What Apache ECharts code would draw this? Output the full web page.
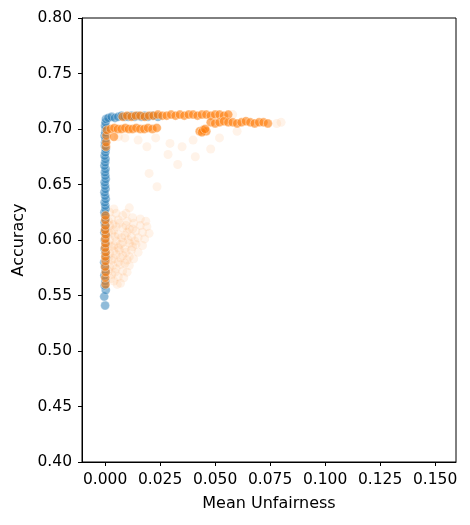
<!DOCTYPE html>
<html>
<head>
<meta charset="utf-8">
<script src="https://cdn.jsdelivr.net/npm/echarts@6/dist/echarts.min.js"></script>
<style>
  html, body { margin: 0; padding: 0; background: #fff; }
  #chart { width: 470px; height: 525px; }
</style>
</head>
<body>
<div id="chart"></div>
<script>
// tick labels
const xTicks = [0, 0.025, 0.05, 0.075, 0.1, 0.125, 0.15];
const yTicks = [0.4, 0.45, 0.5, 0.55, 0.6, 0.65, 0.7, 0.75, 0.8];

// blue runs: [mean unfairness, accuracy]
const blueMain = [
  [0.0000, 0.541], [-0.0004, 0.549], [0.0003, 0.555], [-0.0002, 0.559], [0.0001, 0.563],
  [-0.0003, 0.568], [0.0002, 0.572], [0.0000, 0.576], [-0.0004, 0.580], [0.0003, 0.584],
  [0.0001, 0.588], [-0.0002, 0.592], [0.0002, 0.596], [-0.0001, 0.600], [0.0003, 0.604],
  [-0.0003, 0.607], [0.0001, 0.610], [0.0000, 0.613], [-0.0002, 0.616], [0.0002, 0.619],
  [0.0000, 0.622], [-0.0003, 0.625], [0.0002, 0.628], [0.0001, 0.631], [-0.0002, 0.634],
  [0.0003, 0.637], [0.0000, 0.640], [-0.0003, 0.643], [0.0002, 0.646], [0.0000, 0.649],
  [-0.0002, 0.652], [0.0003, 0.655], [0.0001, 0.658], [-0.0001, 0.661], [0.0002, 0.664],
  [-0.0003, 0.667], [0.0000, 0.670], [0.0002, 0.673], [-0.0002, 0.676], [0.0001, 0.679],
  [0.0003, 0.682], [-0.0001, 0.685], [0.0000, 0.688], [0.0002, 0.691], [-0.0002, 0.694],
  [0.0001, 0.697], [0.0003, 0.700], [0.0000, 0.703], [0.0002, 0.706], [0.0004, 0.709],
  [0.0015, 0.710], [0.0030, 0.711], [0.0045, 0.710], [0.0060, 0.711], [0.0075, 0.712],
  [0.0090, 0.711], [0.0105, 0.711], [0.0120, 0.712], [0.0135, 0.711], [0.0150, 0.712],
  [0.0165, 0.711], [0.0180, 0.712], [0.0195, 0.711], [0.0215, 0.712], [0.0240, 0.711]
];

const orangeMain = [
  [0.0002, 0.560], [0.0001, 0.566], [0.0003, 0.571], [0.0000, 0.576], [0.0002, 0.581],
  [0.0001, 0.585], [0.0003, 0.589], [0.0000, 0.593], [0.0002, 0.597], [0.0001, 0.601],
  [0.0003, 0.605], [0.0000, 0.609], [0.0002, 0.613], [0.0001, 0.618], [0.0002, 0.622],
  [0.0004, 0.684], [0.0005, 0.688], [0.0006, 0.694], [0.0040, 0.693],
  [0.0008, 0.699], [0.0025, 0.700], [0.0042, 0.701], [0.0058, 0.700], [0.0075, 0.700],
  [0.0092, 0.701], [0.0108, 0.700], [0.0125, 0.700], [0.0142, 0.701], [0.0160, 0.700],
  [0.0178, 0.700], [0.0195, 0.701], [0.0215, 0.700], [0.0235, 0.701],
  [0.0080, 0.711], [0.0100, 0.712], [0.0120, 0.711], [0.0140, 0.712], [0.0160, 0.712],
  [0.0180, 0.711], [0.0200, 0.712], [0.0220, 0.712], [0.0240, 0.713], [0.0260, 0.712],
  [0.0280, 0.712], [0.0300, 0.713], [0.0320, 0.712], [0.0340, 0.713], [0.0360, 0.712],
  [0.0380, 0.713], [0.0400, 0.713], [0.0420, 0.712], [0.0440, 0.713], [0.0460, 0.713],
  [0.0480, 0.712], [0.0500, 0.713], [0.0520, 0.713], [0.0540, 0.712], [0.0560, 0.713],
  [0.0480, 0.706], [0.0500, 0.705], [0.0520, 0.706], [0.0540, 0.707], [0.0560, 0.706],
  [0.0580, 0.706], [0.0600, 0.705], [0.0620, 0.706], [0.0640, 0.707], [0.0660, 0.706],
  [0.0680, 0.705], [0.0700, 0.706], [0.0720, 0.706], [0.0740, 0.705],
  [0.0430, 0.698], [0.0445, 0.699], [0.0460, 0.698], [0.0440, 0.697], [0.0455, 0.700]
];

const orangeFaint = [
  [0.0060, 0.693], [0.0090, 0.692], [0.0150, 0.690], [0.0190, 0.684], [0.0230, 0.692],
  [0.0295, 0.687], [0.0286, 0.677], [0.0350, 0.684], [0.0400, 0.690], [0.0410, 0.675],
  [0.0480, 0.682], [0.0520, 0.692], [0.0580, 0.713], [0.0600, 0.698], [0.0780, 0.705],
  [0.0800, 0.706], [0.0236, 0.648], [0.0110, 0.629], [0.0200, 0.660], [0.0330, 0.668],
  [0.0020, 0.625], [0.0050, 0.624], [0.0080, 0.622], [0.0030, 0.619], [0.0060, 0.618],
  [0.0100, 0.617], [0.0130, 0.615], [0.0160, 0.613], [0.0190, 0.612], [0.0020, 0.613],
  [0.0050, 0.612], [0.0080, 0.611], [0.0110, 0.610], [0.0140, 0.608], [0.0170, 0.607],
  [0.0200, 0.606], [0.0030, 0.606], [0.0060, 0.605], [0.0090, 0.604], [0.0120, 0.603],
  [0.0150, 0.602], [0.0180, 0.601], [0.0020, 0.600], [0.0050, 0.599], [0.0080, 0.598],
  [0.0110, 0.597], [0.0140, 0.596], [0.0170, 0.595], [0.0030, 0.594], [0.0060, 0.593],
  [0.0090, 0.592], [0.0120, 0.591], [0.0150, 0.589], [0.0020, 0.588], [0.0050, 0.587],
  [0.0080, 0.586], [0.0110, 0.585], [0.0130, 0.583], [0.0030, 0.582], [0.0060, 0.580],
  [0.0090, 0.579], [0.0110, 0.577], [0.0020, 0.576], [0.0050, 0.574], [0.0080, 0.572],
  [0.0030, 0.569], [0.0060, 0.567], [0.0040, 0.563], [0.0070, 0.561], [0.0100, 0.571],
  [0.0040, 0.609], [0.0070, 0.596], [0.0100, 0.607], [0.0040, 0.590], [0.0070, 0.584],
  [0.0015, 0.617], [0.0035, 0.614], [0.0065, 0.615], [0.0095, 0.613], [0.0125, 0.610],
  [0.0015, 0.607], [0.0045, 0.603], [0.0075, 0.602], [0.0105, 0.600], [0.0135, 0.599],
  [0.0015, 0.596], [0.0040, 0.595], [0.0065, 0.591], [0.0095, 0.589], [0.0125, 0.594],
  [0.0015, 0.584], [0.0040, 0.583], [0.0070, 0.578], [0.0100, 0.582], [0.0035, 0.577],
  [0.0015, 0.572], [0.0045, 0.571], [0.0025, 0.565], [0.0055, 0.560], [0.0085, 0.566],
  [0.0160, 0.619], [0.0185, 0.617], [0.0125, 0.620], [0.0095, 0.624], [0.0040, 0.628]
];

const chart = echarts.init(document.getElementById('chart'));
const blue = '#1f77b4';
const orange = '#ff7f0e';
const tickFont = { fontFamily: 'DejaVu Sans', fontSize: 15.5, color: '#000' };
const nameFont = { fontFamily: 'DejaVu Sans', fontSize: 16, color: '#000' };

function scatter(data, color, alpha, border) {
  return {
    type: 'scatter',
    data: data,
    symbolSize: 9,
    itemStyle: { color: color, opacity: alpha, borderColor: '#fff', borderWidth: border },
    silent: true
  };
}

chart.setOption({
  animation: false,
  grid: {
    left: 82, right: 14, top: 18, bottom: 63,
    show: true, borderColor: '#000', borderWidth: 1, backgroundColor: 'transparent'
  },
  xAxis: {
    type: 'value',
    min: -0.0105,
    max: 0.1595,
    name: 'Mean Unfairness',
    nameLocation: 'middle',
    nameGap: 34,
    nameTextStyle: nameFont,
    axisLine: { show: true, onZero: false, lineStyle: { color: '#000', width: 1 } },
    axisTick: { show: true, length: 4, customValues: xTicks, lineStyle: { color: '#000' } },
    axisLabel: {
      ...tickFont, margin: 10,
      customValues: xTicks,
      formatter: v => v.toFixed(3)
    },
    splitLine: { show: false }
  },
  yAxis: {
    type: 'value',
    min: yTicks[0],
    max: yTicks[yTicks.length - 1],
    interval: 0.05,
    name: 'Accuracy',
    nameLocation: 'middle',
    nameGap: 52,
    nameRotate: 90,
    nameTextStyle: nameFont,
    axisLine: { show: true, onZero: false, lineStyle: { color: '#000', width: 1 } },
    axisTick: { show: true, length: 4, lineStyle: { color: '#000' } },
    axisLabel: { ...tickFont, margin: 10, formatter: v => v.toFixed(2) },
    splitLine: { show: false }
  },
  series: [
    scatter(orangeFaint, orange, 0.09, 0),
    scatter(blueMain, blue, 0.5, 0.6),
    scatter(orangeMain, orange, 0.6, 0.6)
  ]
});
</script>
</body>
</html>
